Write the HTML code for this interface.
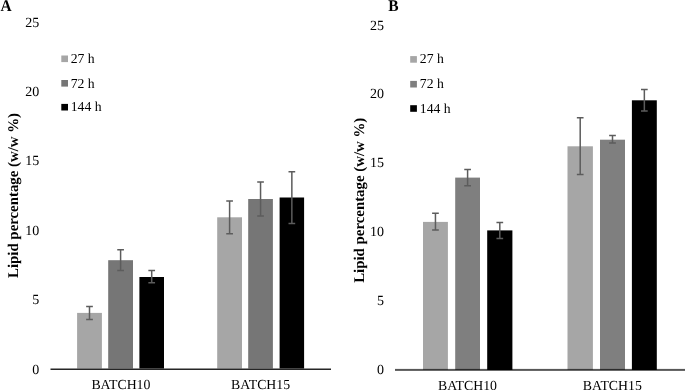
<!DOCTYPE html>
<html><head><meta charset="utf-8"><style>
html,body{margin:0;padding:0;background:#fff;width:685px;height:390px;overflow:hidden}
svg{display:block;will-change:transform;text-rendering:geometricPrecision}
text{font-family:"Liberation Serif", serif;fill:#000}
</style></head><body>
<svg width="685" height="390" viewBox="0 0 685 390">
<rect width="685" height="390" fill="#fff"/>
<rect x="77.10" y="312.90" width="24.80" height="55.70" fill="#A6A6A6"/>
<rect x="108.20" y="260.20" width="24.80" height="108.40" fill="#767676"/>
<rect x="139.40" y="277.00" width="24.60" height="91.60" fill="#000000"/>
<rect x="217.20" y="217.30" width="24.80" height="151.30" fill="#A6A6A6"/>
<rect x="248.20" y="199.00" width="24.70" height="169.60" fill="#767676"/>
<rect x="279.60" y="197.50" width="24.50" height="171.10" fill="#000000"/>
<rect x="50.5" y="368.5" width="280.5" height="1.5" fill="#262626"/>
<path d="M89.50 306.50V319.50M86.15 306.50H92.85M86.15 319.50H92.85" stroke="#5c5c5c" stroke-width="1.5" fill="none"/>
<path d="M120.60 249.70V270.50M117.25 249.70H123.95M117.25 270.50H123.95" stroke="#5c5c5c" stroke-width="1.5" fill="none"/>
<path d="M151.70 270.40V282.80M148.35 270.40H155.05M148.35 282.80H155.05" stroke="#5c5c5c" stroke-width="1.5" fill="none"/>
<path d="M229.60 201.10V233.70M226.25 201.10H232.95M226.25 233.70H232.95" stroke="#5c5c5c" stroke-width="1.5" fill="none"/>
<path d="M260.55 181.90V216.00M257.20 181.90H263.90M257.20 216.00H263.90" stroke="#5c5c5c" stroke-width="1.5" fill="none"/>
<path d="M291.85 171.70V223.40M288.50 171.70H295.20M288.50 223.40H295.20" stroke="#5c5c5c" stroke-width="1.5" fill="none"/>
<text x="39.2" y="26.9" text-anchor="end" font-size="14">25</text>
<text x="39.2" y="96.4" text-anchor="end" font-size="14">20</text>
<text x="39.2" y="165.1" text-anchor="end" font-size="14">15</text>
<text x="39.2" y="234.6" text-anchor="end" font-size="14">10</text>
<text x="39.2" y="304.1" text-anchor="end" font-size="14">5</text>
<text x="39.2" y="373.5" text-anchor="end" font-size="14">0</text>
<text x="120.9" y="389.4" text-anchor="middle" font-size="13.8">BATCH10</text>
<text x="260.6" y="389.4" text-anchor="middle" font-size="13.8">BATCH15</text>
<rect x="61.3" y="55.5" width="6.7" height="6.6" fill="#A6A6A6"/>
<text x="70.7" y="63.0" font-size="13.7">27 h</text>
<rect x="61.3" y="80.0" width="6.7" height="6.6" fill="#767676"/>
<text x="70.7" y="87.5" font-size="13.7">72 h</text>
<rect x="61.3" y="103.9" width="6.7" height="6.6" fill="#000000"/>
<text x="70.7" y="111.4" font-size="13.7">144 h</text>
<text transform="translate(18.1,278.0) rotate(-90)" font-size="14.85" font-weight="bold">Lipid percentage (w/w %)</text>
<text transform="translate(0.6,10.9) scale(0.95,1)" font-size="16.3" font-weight="bold">A</text>
<rect x="423.00" y="221.90" width="24.90" height="148.10" fill="#A6A6A6"/>
<rect x="455.20" y="177.60" width="24.80" height="192.40" fill="#7F7F7F"/>
<rect x="487.20" y="230.40" width="25.20" height="139.60" fill="#000000"/>
<rect x="567.50" y="146.30" width="25.40" height="223.70" fill="#A6A6A6"/>
<rect x="600.00" y="139.70" width="25.00" height="230.30" fill="#7F7F7F"/>
<rect x="631.90" y="100.30" width="24.90" height="269.70" fill="#000000"/>
<rect x="395" y="368.9" width="290" height="2.0" fill="#000" fill-opacity="0.66"/>
<path d="M435.45 213.30V230.00M432.10 213.30H438.80M432.10 230.00H438.80" stroke="#5c5c5c" stroke-width="1.5" fill="none"/>
<path d="M467.60 169.50V185.70M464.25 169.50H470.95M464.25 185.70H470.95" stroke="#5c5c5c" stroke-width="1.5" fill="none"/>
<path d="M499.80 222.50V238.50M496.45 222.50H503.15M496.45 238.50H503.15" stroke="#5c5c5c" stroke-width="1.5" fill="none"/>
<path d="M580.20 117.70V174.60M576.85 117.70H583.55M576.85 174.60H583.55" stroke="#5c5c5c" stroke-width="1.5" fill="none"/>
<path d="M612.50 135.60V143.00M609.15 135.60H615.85M609.15 143.00H615.85" stroke="#5c5c5c" stroke-width="1.5" fill="none"/>
<path d="M644.35 89.40V111.00M641.00 89.40H647.70M641.00 111.00H647.70" stroke="#5c5c5c" stroke-width="1.5" fill="none"/>
<text x="383.9" y="30.2" text-anchor="end" font-size="14">25</text>
<text x="383.9" y="98.4" text-anchor="end" font-size="14">20</text>
<text x="383.9" y="167.3" text-anchor="end" font-size="14">15</text>
<text x="383.9" y="236.3" text-anchor="end" font-size="14">10</text>
<text x="383.9" y="305.4" text-anchor="end" font-size="14">5</text>
<text x="383.9" y="374.4" text-anchor="end" font-size="14">0</text>
<text x="467.5" y="389.9" text-anchor="middle" font-size="13.8">BATCH10</text>
<text x="612.3" y="389.9" text-anchor="middle" font-size="13.8">BATCH15</text>
<rect x="410.2" y="56.1" width="6.7" height="6.6" fill="#A6A6A6"/>
<text x="419.8" y="63.4" font-size="13.7">27 h</text>
<rect x="410.2" y="80.9" width="6.7" height="6.6" fill="#7F7F7F"/>
<text x="419.8" y="88.2" font-size="13.7">72 h</text>
<rect x="410.2" y="105.2" width="6.7" height="6.6" fill="#000000"/>
<text x="419.8" y="112.5" font-size="13.7">144 h</text>
<text transform="translate(364.2,282.8) rotate(-90)" font-size="14.85" font-weight="bold">Lipid percentage (w/w %)</text>
<text transform="translate(388.2,10.9) scale(0.95,1)" font-size="16.3" font-weight="bold">B</text>
</svg>
</body></html>
